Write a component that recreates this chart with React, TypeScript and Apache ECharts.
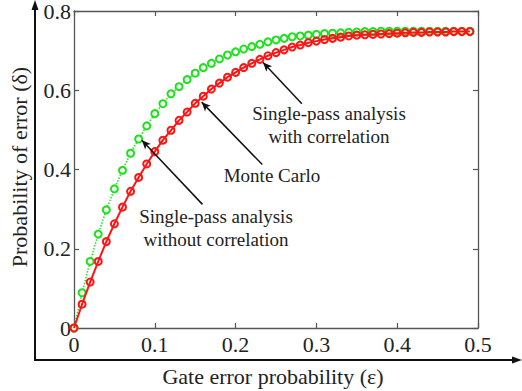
import React, { useEffect, useRef } from "react";
import * as echarts from "echarts";

const eps = [
  0, 0.01, 0.02, 0.03, 0.04, 0.05, 0.06, 0.07, 0.08, 0.09,
  0.1, 0.11, 0.12, 0.13, 0.14, 0.15, 0.16, 0.17, 0.18, 0.19,
  0.2, 0.21, 0.22, 0.23, 0.24, 0.25, 0.26, 0.27, 0.28, 0.29,
  0.3, 0.31, 0.32, 0.33, 0.34, 0.35, 0.36, 0.37, 0.38, 0.39,
  0.4, 0.41, 0.42, 0.43, 0.44, 0.45, 0.46, 0.47, 0.48, 0.49,
];

// Monte Carlo / single-pass with correlation (red, overlapping)
const withCorrelation = [
  0, 0.06, 0.116, 0.168, 0.218, 0.263, 0.305, 0.345, 0.38, 0.414,
  0.445, 0.474, 0.499, 0.524, 0.545, 0.567, 0.585, 0.603, 0.618, 0.633,
  0.645, 0.657, 0.668, 0.678, 0.687, 0.695, 0.702, 0.709, 0.714, 0.72,
  0.724, 0.728, 0.731, 0.734, 0.737, 0.739, 0.74, 0.741, 0.742, 0.743,
  0.744, 0.745, 0.746, 0.746, 0.747, 0.747, 0.747, 0.748, 0.748, 0.748,
];

// single-pass without correlation (green)
const withoutCorrelation = [
  0, 0.089, 0.168, 0.237, 0.298, 0.351, 0.398, 0.441, 0.477, 0.51,
  0.541, 0.566, 0.591, 0.609, 0.627, 0.643, 0.657, 0.668, 0.679, 0.689,
  0.697, 0.704, 0.71, 0.716, 0.722, 0.727, 0.731, 0.735, 0.737, 0.739,
  0.741, 0.743, 0.744, 0.745, 0.746, 0.747, 0.748, 0.748, 0.749, 0.749,
  0.749, 0.749, 0.749, 0.749, 0.749, 0.749, 0.749, 0.749, 0.749, 0.749,
];

// annotation arrows: [tailX, tailY, headX, headY] in data units
const arrowWith = [0.282, 0.566, 0.234, 0.67];
const arrowMonte = [0.233, 0.4125, 0.158, 0.57];
const arrowWithout = [0.159, 0.312, 0.084, 0.474];

const FONT = "Liberation Serif";
const RED = "#ff1414";
const GREEN = "#1fe01f";
const FRAME = "#555";

export default function App() {
  const ref = useRef<HTMLDivElement>(null);

  useEffect(() => {
    if (!ref.current) return;
    const chart = echarts.init(ref.current, null, { renderer: "svg" });

    const arrow = (a: number[]) => [
      { coord: [a[0], a[1]] },
      { coord: [a[2], a[3]] },
    ];

    const axisCommon = {
      type: "value" as const,
      axisLine: { show: true, onZero: false, lineStyle: { color: FRAME, width: 1.3 } },
      axisTick: { show: true, inside: true, length: 5, lineStyle: { color: FRAME, width: 1.2 } },
      splitLine: { show: false },
    };

    const fmt = (v: number) => (v === 0 ? "0" : String(Math.round(v * 10) / 10));

    const option: any = {
      animation: false,
      backgroundColor: "#fff",
      textStyle: { fontFamily: FONT },
      grid: { left: 74, right: 44, top: 9, bottom: 63, containLabel: false },
      xAxis: [
        {
          ...axisCommon,
          position: "bottom",
          min: 0,
          max: 0.5,
          interval: 0.1,
          axisLabel: { show: true, fontFamily: FONT, fontSize: 22, color: "#222", margin: 5, formatter: fmt },
        },
        {
          ...axisCommon,
          position: "top",
          min: 0,
          max: 0.5,
          interval: 0.1,
          axisLabel: { show: false },
        },
      ],
      yAxis: [
        {
          ...axisCommon,
          position: "left",
          min: 0,
          max: 0.8,
          interval: 0.2,
          axisLabel: { show: true, fontFamily: FONT, fontSize: 22, color: "#222", margin: 3, formatter: fmt },
        },
        {
          ...axisCommon,
          position: "right",
          min: 0,
          max: 0.8,
          interval: 0.2,
          axisLabel: { show: false },
        },
      ],
      series: [
        {
          name: "Single-pass analysis without correlation",
          type: "line",
          xAxisIndex: 0,
          yAxisIndex: 0,
          data: eps.map((e, i) => [e, withoutCorrelation[i]]),
          symbol: "circle",
          symbolSize: 7,
          itemStyle: { color: "#f4fff4", borderColor: GREEN, borderWidth: 2 },
          lineStyle: { color: GREEN, width: 1.5, type: "dotted" },
          z: 2,
        },
        {
          name: "Monte Carlo / Single-pass analysis with correlation",
          type: "line",
          xAxisIndex: 0,
          yAxisIndex: 0,
          data: eps.map((e, i) => [e, withCorrelation[i]]),
          symbol: "circle",
          symbolSize: 7,
          itemStyle: { color: "rgba(255,255,255,0)", borderColor: RED, borderWidth: 2 },
          lineStyle: { color: RED, width: 2 },
          z: 3,
          markLine: {
            silent: true,
            symbol: ["none", "arrow"],
            symbolSize: [6, 9],
            label: { show: false },
            lineStyle: { color: "#111", width: 1.5, type: "solid" },
            data: [arrow(arrowWith), arrow(arrowMonte), arrow(arrowWithout)],
          },
        },
      ],
      graphic: [
        // outer L-shaped axes with arrows
        { type: "line", shape: { x1: 35, y1: 360, x2: 35, y2: 4 }, style: { stroke: "#111", lineWidth: 2 } },
        { type: "polygon", shape: { points: [[35, 0], [31.5, 10], [38.5, 10]] }, style: { fill: "#111" } },
        { type: "line", shape: { x1: 34, y1: 360, x2: 516, y2: 360 }, style: { stroke: "#111", lineWidth: 2 } },
        { type: "polygon", shape: { points: [[522, 360], [512, 356.5], [512, 363.5]] }, style: { fill: "#111" } },
        // axis titles
        {
          type: "text",
          x: 273,
          y: 376,
          style: {
            text: "Gate error probability (ε)",
            fontFamily: FONT,
            fontSize: 22,
            fill: "#222",
            align: "center",
            verticalAlign: "middle",
          },
        },
        {
          type: "text",
          x: 19,
          y: 167,
          rotation: Math.PI / 2,
          style: {
            text: "Probability of error (δ)",
            fontFamily: FONT,
            fontSize: 22,
            fill: "#222",
            align: "center",
            verticalAlign: "middle",
          },
        },
        // annotations
        {
          type: "text",
          x: 329,
          y: 125,
          style: {
            text: "Single-pass analysis\nwith correlation",
            fontFamily: FONT,
            fontSize: 19,
            lineHeight: 23,
            fill: "#222",
            align: "center",
            verticalAlign: "middle",
          },
        },
        {
          type: "text",
          x: 272,
          y: 175,
          style: {
            text: "Monte Carlo",
            fontFamily: FONT,
            fontSize: 19,
            fill: "#222",
            align: "center",
            verticalAlign: "middle",
          },
        },
        {
          type: "text",
          x: 216,
          y: 228,
          style: {
            text: "Single-pass analysis\nwithout correlation",
            fontFamily: FONT,
            fontSize: 19,
            lineHeight: 23,
            fill: "#222",
            align: "center",
            verticalAlign: "middle",
          },
        },
      ],
    };

    chart.setOption(option);
    return () => chart.dispose();
  }, []);

  return (
    <div
      ref={ref}
      style={{ position: "fixed", left: 0, top: 0, width: 522, height: 391, background: "#fff" }}
    />
  );
}
